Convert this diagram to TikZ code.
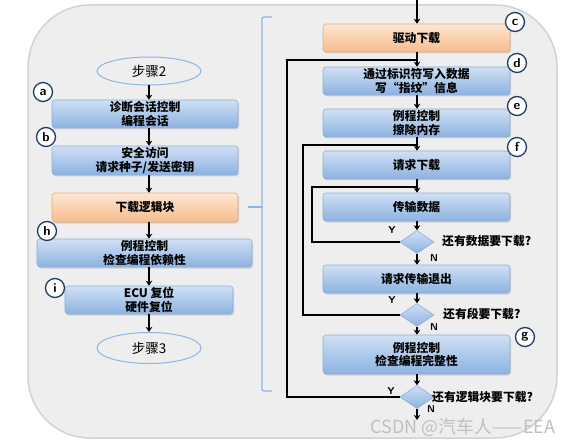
\documentclass[tikz,border=0pt]{standalone}
\usepackage{fontspec}
\newfontfamily\cjk{Noto Sans CJK SC}
\usetikzlibrary{arrows.meta,shapes.geometric,shadows}
\definecolor{btop}{HTML}{CFE0F4}
\definecolor{bmid}{HTML}{A9C6EA}
\definecolor{bbot}{HTML}{8CB2E0}
\definecolor{bborder}{HTML}{8EADD6}
\definecolor{otop}{HTML}{FDE6D2}
\definecolor{obot}{HTML}{F8BC8C}
\definecolor{oborder}{HTML}{E8A878}
\definecolor{panel}{HTML}{EEEEEE}
\definecolor{brk}{HTML}{8EB4E3}
\definecolor{navy}{HTML}{1F3C64}
\newcommand{\bx}{\cjk\bfseries\fontsize{11.8}{13.6}\selectfont}
\begin{document}
\begin{tikzpicture}[x=1pt,y=-1pt,
  box/.style={draw=bborder, line width=0.6pt, rounded corners=3pt, top color=btop, bottom color=bbot,
    minimum height=28pt, inner sep=0pt, align=center, font=\bx,
    drop shadow={opacity=0.25, shadow xshift=1pt, shadow yshift=-1.5pt}},
  obox/.style={box, draw=oborder, top color=otop, bottom color=obot},
  ell/.style={ellipse, draw=brk, line width=1pt, fill=panel, inner sep=0pt,
    font=\cjk\fontsize{13.5}{15}\selectfont},
  dia/.style={diamond, draw=bborder, line width=0.6pt, top color=btop, bottom color=bbot,
    minimum width=34pt, minimum height=23pt, inner sep=0pt},
  tag/.style={circle, draw=navy, line width=1.3pt, fill=white, minimum size=19pt, inner sep=0pt,
    font=\sffamily\bfseries\fontsize{13}{13}\selectfont},
  yn/.style={font=\sffamily\bfseries\fontsize{10}{10}\selectfont, inner sep=0pt},
  qlab/.style={anchor=west, font=\bx, inner sep=0pt},
  arr/.style={-{Stealth[length=5pt,width=6.5pt]}, line width=1.6pt},
  loop/.style={line width=1.1pt},
  brace/.style={draw=brk, line width=1.3pt, rounded corners=2pt}
]
\useasboundingbox (0,0) rectangle (582,444);
% panel
\path[draw=gray!35, line width=1.5pt, fill=panel, rounded corners=62pt] (28,5) rectangle (557,438);

% bracket
\draw[brace] (272,17) -- (262,17) -- (262,391) -- (272,391);
\draw[brace] (262,207) -- (248,207);

% left column
\node[ell, minimum width=104pt, minimum height=28pt] (s2) at (149,71) {步骤2};
\node[box, minimum width=186pt] (a) at (145,114) {诊断会话控制\\编程会话};
\node[box, minimum width=186pt, minimum height=29pt] (b) at (145,160.5) {安全访问\\请求种子/发送密钥};
\node[obox, minimum width=186pt, minimum height=29pt] (dl) at (145,207.5) {下载逻辑块};
\node[box, minimum width=215pt] (h) at (144.5,253) {例程控制\\检查编程依赖性};
\node[box, minimum width=168pt] (i) at (149,300) {ECU 复位\\硬件复位};
\node[ell, minimum width=104pt, minimum height=31pt] (s3) at (149,348) {步骤3};

\node[tag] (ta) at (43,92) {a};
\node[tag] (tb) at (46,137) {b};
\node[tag] (th) at (47,231) {h};
\node[tag] (ti) at (55,288) {i};

\draw[arr] (s2.south) -- (s2.south |- a.north);
\draw[arr] (s2.south |- a.south) -- (s2.south |- b.north);
\draw[arr] (s2.south |- b.south) -- (s2.south |- dl.north);
\draw[arr] (s2.south |- dl.south) -- (s2.south |- h.north);
\draw[arr] (s2.south |- h.south) -- (s2.south |- i.north);
\draw[arr] (s2.south |- i.south) -- (s3.north);

% right column
\coordinate (top) at (417,0);
\node[obox, minimum width=187pt] (c) at (416.5,38) {驱动下载};
\node[box, minimum width=187pt] (d) at (416.5,81) {通过标识符写入数据\\写“指纹”信息};
\node[box, minimum width=187pt] (e) at (416.5,123) {例程控制\\擦除内存};
\node[box, minimum width=187pt] (f) at (416.5,165) {请求下载};
\node[box, minimum width=187pt] (t) at (416.5,207) {传输数据};
\node[dia] (q1) at (417,242) {};
\node[box, minimum width=187pt] (x) at (416.5,279) {请求传输退出};
\node[dia] (q2) at (417,315) {};
\node[box, minimum width=187pt, minimum height=39pt] (g) at (416.5,354.5) {例程控制\\检查编程完整性};
\node[dia] (q3) at (417,397) {};
\coordinate (out) at (417,420);

\node[tag] (tc) at (515,22) {c};
\node[tag] (td) at (517,63) {d};
\node[tag] (te) at (517,106) {e};
\node[tag] (tf) at (517,147) {f};
\node[tag] (tg) at (525,337) {g};

\node[qlab] (l1) at (442,241) {还有数据要下载?};
\node[qlab] (l2) at (443,314) {还有段要下载?};
\node[qlab] (l3) at (432,397) {还有逻辑块要下载?};

\node[yn] (y1) at (392,230) {Y};
\node[yn] (n1) at (434,258) {N};
\node[yn] (y2) at (392,300) {Y};
\node[yn] (n2) at (434,327) {N};
\node[yn] (y3) at (391,391) {Y};
\node[yn] (n3) at (431,409) {N};

\draw[arr] (top) -- (q1.center |- c.north);
\draw[arr] (q1.center |- c.south) -- (q1.center |- d.north);
\draw[arr] (q1.center |- d.south) -- (q1.center |- e.north);
\draw[arr] (q1.center |- e.south) -- (q1.center |- f.north);
\draw[arr] (q1.center |- f.south) -- (q1.center |- t.north);
\draw[arr] (q1.center |- t.south) -- (q1.north);
\draw[arr] (q1.south) -- (q1.center |- x.north);
\draw[arr] (q1.center |- x.south) -- (q2.north);
\draw[arr] (q2.south) -- (q2.center |- g.north);
\draw[arr] (q2.center |- g.south) -- (q3.north);
\draw[arr] (q3.south) -- (out);

% loops
\coordinate (j1) at (417,60);
\coordinate (j2) at (417,145);
\coordinate (j3) at (417,187);
\draw[loop] (q3.west) -- (287,397) |- (j1);
\draw[loop] (q2.west) -- (303,315) |- (j2);
\draw[loop, line width=1.6pt] (q1.west) -- (312,242) |- (j3);

% watermark
\node[text=gray!50, font=\cjk\fontsize{18}{19}\selectfont, inner sep=0pt] (wm) at (463,427) {CSDN @汽车人——EEA};
\end{tikzpicture}
\end{document}
